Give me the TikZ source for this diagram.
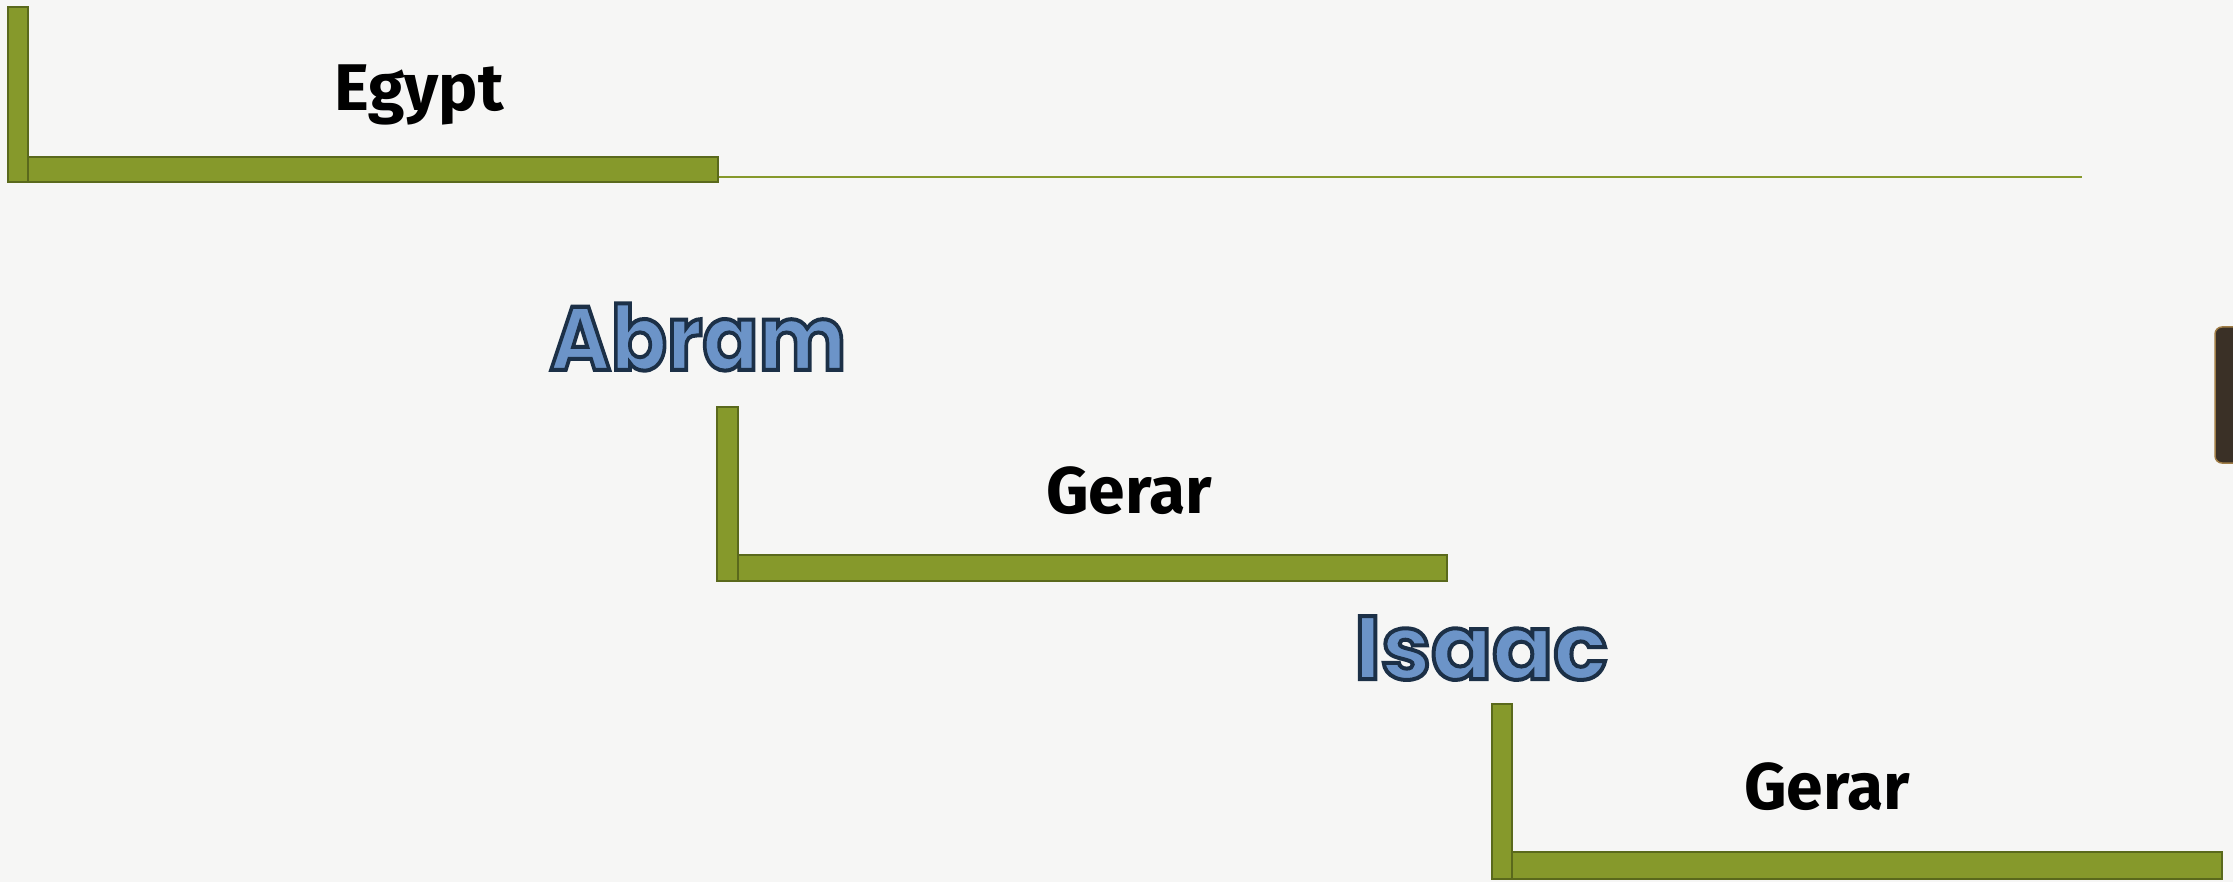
\documentclass[tikz,border=0pt]{standalone}
\usepackage{fontspec}
\setmainfont{Fira Sans}
\newfontfamily\namefont{Poppins}
\definecolor{barfill}{RGB}{134,153,43}
\definecolor{barline}{RGB}{90,105,28}
\definecolor{bgcol}{RGB}{246,246,245}
\definecolor{namefill}{RGB}{108,148,200}
\definecolor{darkbar}{RGB}{58,48,38}
\definecolor{darkedge}{RGB}{160,125,70}
\newcommand{\outlined}[1]{\textcolor{namefill}{\special{pdf:literal direct 2 Tr 4 w 0.11 0.19 0.28 RG}#1\special{pdf:literal direct 0 Tr}}}
\tikzset{
  bar/.style={fill=barfill,draw=barline,line width=2.5pt},
  place/.style={font=\fontsize{66}{70}\selectfont\bfseries,text=black,inner sep=0pt},
  person/.style={font=\namefont\fontsize{90}{94}\selectfont\bfseries,inner sep=0pt},
}
\begin{document}
\begin{tikzpicture}[x=1pt,y=-1pt]
\useasboundingbox (0,0) rectangle (2233,882);
\fill[bgcol] (0,0) rectangle (2233,882);
% Egypt bracket
\draw[barfill,line width=2.5pt] (718,177) -- (2082,177);
\draw[bar] (28,157) rectangle (718,182);
\draw[bar] (8,7) rectangle (28,182);
\node[place] (egypt) at (419,95) {Egypt};
% Abram
\node[person,xscale=0.92] (abram) at (698,337) {\outlined{Abram}};
\draw[bar] (738,555) rectangle (1447,581);
\draw[bar] (717,407) rectangle (738,581);
\node[place] (gerar1) at (1129,491) {Gerar};
% Isaac
\node[person] (isaac) at (1481,648) {\outlined{Isaac}};
\draw[bar] (1512,852) rectangle (2222,879);
\draw[bar] (1492,704) rectangle (1512,879);
\node[place] (gerar2) at (1827,787) {Gerar};
% dark bar at right edge
\draw[fill=darkbar,draw=darkedge,line width=1.5pt,rounded corners=7pt] (2215,327) rectangle (2260,463);
\end{tikzpicture}
\end{document}
